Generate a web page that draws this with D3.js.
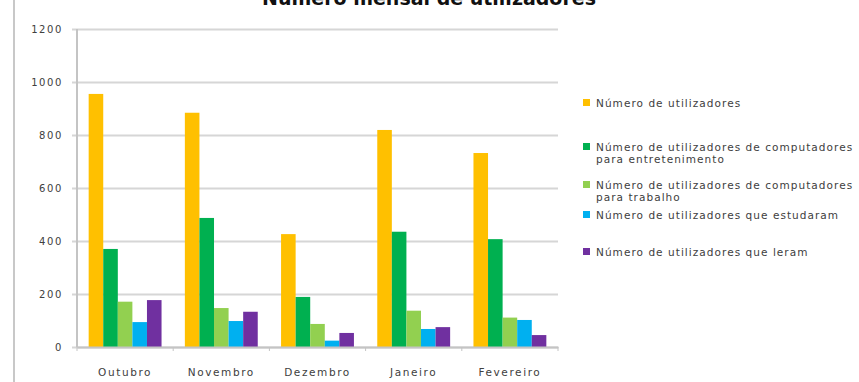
<!DOCTYPE html>
<html><head><meta charset="utf-8">
<script src="https://cdn.jsdelivr.net/npm/d3@7"></script>
<style>
body{margin:0;background:#fff;}
svg{display:block;}
</style></head>
<body>
<script>
const title = "Número mensal de utilizadores";
const months = ["Outubro","Novembro","Dezembro","Janeiro","Fevereiro"];
const legendLines = [
  ["Número de utilizadores"],
  ["Número de utilizadores de computadores","para entretenimento"],
  ["Número de utilizadores de computadores","para trabalho"],
  ["Número de utilizadores que estudaram"],
  ["Número de utilizadores que leram"]
];
const utilizadores   = [955, 884, 426, 819, 732];
const entretenimento = [370, 487, 189, 435, 407];
const trabalho       = [171, 147, 87, 137, 111];
const estudaram      = [94, 98, 24, 68, 102];
const leram          = [177, 133, 53, 75, 45];
const yTicks = [0, 200, 400, 600, 800, 1000, 1200];
const colors = ["#FFC000", "#00B050", "#92D050", "#00B0F0", "#7030A0"];

const series = [utilizadores, entretenimento, trabalho, estudaram, leram];
const W = 859, H = 382;
const svg = d3.select("body").append("svg").attr("width", W).attr("height", H);

// outer chart border (left edge visible)
svg.append("line").attr("x1",14).attr("x2",14).attr("y1",0).attr("y2",H)
  .attr("stroke","#c8c8c8").attr("stroke-width",2);

const plot = {left:77, right:558, top:29, bottom:347};
const y = d3.scaleLinear().domain([0,1200]).range([plot.bottom, plot.top]);
const x0 = d3.scaleBand().domain(months).range([plot.left, plot.right]).padding(0);
const x1 = d3.scaleBand().domain(d3.range(5)).range([0, x0.bandwidth()]).paddingInner(0).paddingOuter(0.8);

// gridlines + y axis
const yAxis = d3.axisLeft(y).tickValues(yTicks).tickFormat(d3.format("d"))
  .tickSize(-(plot.right - plot.left)).tickPadding(12);
const gy = svg.append("g").attr("transform", `translate(${plot.left},0)`).call(yAxis);
gy.select(".domain").remove();
gy.selectAll(".tick line").attr("stroke","#d6d6d6").attr("stroke-width",2).attr("x1",-5);
gy.selectAll(".tick text").attr("fill","#404040").style("font-family","DejaVu Sans, sans-serif")
  .style("font-size","10px").style("letter-spacing","1.6px").attr("x",-14);

// bars
const groups = svg.append("g").selectAll("g").data(months).join("g")
  .attr("transform", d => `translate(${x0(d)},0)`);
groups.selectAll("rect").data((m,i) => series.map((s,k) => ({k, v:s[i]}))).join("rect")
  .attr("x", d => x1(d.k)).attr("width", x1.bandwidth())
  .attr("y", d => y(d.v)).attr("height", d => plot.bottom - y(d.v))
  .attr("fill", d => colors[d.k]);

// y axis line
svg.append("line").attr("x1",plot.left).attr("x2",plot.left).attr("y1",plot.top).attr("y2",plot.bottom)
  .attr("stroke","#c4c4c4").attr("stroke-width",2);

// x axis
const xAxis = d3.axisBottom(x0).tickSize(0).tickPadding(22);
const gx = svg.append("g").attr("transform", `translate(0,${plot.bottom})`).call(xAxis);
gx.select(".domain").attr("stroke","#c4c4c4").attr("stroke-width",2);
gx.selectAll(".tick text").attr("fill","#404040").style("font-family","DejaVu Sans, sans-serif")
  .style("font-size","10.5px").style("letter-spacing","1.6px");
// category boundary ticks
const bounds = months.map(m => x0(m)).concat([plot.right]);
gx.selectAll(".bt").data(bounds).join("line").attr("class","bt")
  .attr("x1", d => d).attr("x2", d => d).attr("y1", 0).attr("y2", 4)
  .attr("stroke","#c4c4c4").attr("stroke-width",1);

// title
svg.append("text").attr("x",429).attr("y",5).attr("text-anchor","middle")
  .style("font-family","DejaVu Sans, sans-serif").style("font-weight","bold").style("font-size","19px")
  .attr("fill","#111").text(title);

// legend
const legendY = [103, 147, 185, 215, 252];
const lg = svg.append("g").selectAll("g").data(legendLines).join("g")
  .attr("transform", (d,i) => `translate(583,${legendY[i]})`);
lg.append("rect").attr("x",0).attr("y",-4).attr("width",7).attr("height",7).attr("fill",(d,i)=>colors[i]);
lg.each(function(lines){
  const t = d3.select(this).append("text").attr("fill","#404040")
    .style("font-family","DejaVu Sans, sans-serif").style("font-size","10.5px").style("letter-spacing","1.05px");
  lines.forEach((ln,j) => t.append("tspan").attr("x",13).attr("y", 3.5 + j*12).text(ln));
});
</script>
</body></html>
